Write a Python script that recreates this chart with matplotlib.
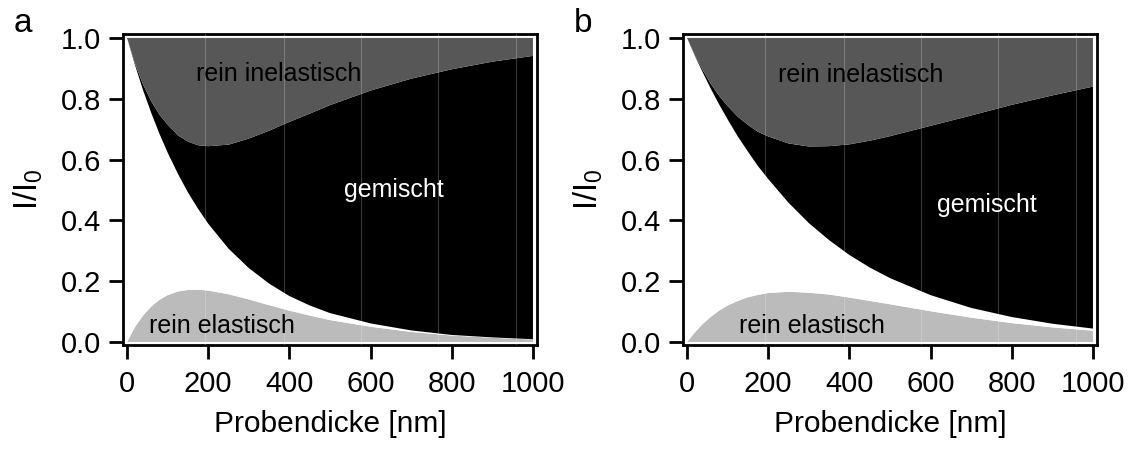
import numpy as np
import matplotlib
matplotlib.use("Agg")
import matplotlib.pyplot as plt

plt.rcParams["font.family"] = "Liberation Sans"
plt.rcParams["mathtext.default"] = "regular"

# Probendicke [nm]
dicke = [0, 20, 40, 60, 80, 100, 125, 150, 175, 200, 250, 300, 350, 400,
         450, 500, 600, 700, 800, 900, 1000]

# panel a: Anteile (rein elastisch, ungestreut, gemischt), Rest = rein inelastisch
elast_a = [0, .050, .088, .117, .139, .154, .166, .171, .172, .169, .157, .140,
           .121, .103, .087, .072, .050, .033, .021, .014, .008]
unges_a = [1, .859, .738, .635, .545, .469, .388, .321, .266, .220, .150, .103,
           .071, .048, .033, .023, .011, .005, .002, .001, .001]
gemis_a = [0, .005, .019, .039, .063, .092, .126, .167, .209, .255, .342, .426,
           .503, .573, .631, .684, .766, .828, .874, .907, .932]

# panel b
elast_b = [0, .033, .061, .084, .104, .120, .135, .147, .155, .161, .165, .162,
           .156, .146, .135, .124, .101, .080, .062, .048, .037]
unges_b = [1, .906, .822, .745, .675, .612, .541, .479, .423, .375, .293, .229,
           .179, .140, .110, .086, .053, .032, .020, .012, .007]
gemis_b = [0, .002, .008, .017, .029, .044, .065, .088, .113, .140, .195, .252,
           .309, .364, .417, .467, .557, .633, .698, .751, .796]

# faint vertical seams
seams = [193, 386, 576, 767, 958]

labels_a = [("rein inelastisch", 170, 0.86, "black"),
            ("gemischt", 534, 0.477, "white"),
            ("rein elastisch", 54, 0.03, "black")]
labels_b = [("rein inelastisch", 224, 0.855, "black"),
            ("gemischt", 616, 0.428, "white"),
            ("rein elastisch", 128, 0.03, "black")]

W, H = 1143, 455
fig = plt.figure(figsize=(W / 100, H / 100), dpi=100)


def panel(left_px, elast, unges, gemis, labels, letter, letter_x):
    ax = fig.add_axes([left_px / W, (H - 345) / H, 414 / W, 311 / H])
    e = np.array(elast)
    u = np.array(unges)
    m = np.array(gemis)
    inel = 1 - e - u - m
    ax.stackplot(dicke, e, u, m, inel,
                 colors=["#bbbbbb", "white", "black", "#575757"], linewidth=0)
    for s in seams:
        ax.axvline(s, color="white", alpha=0.22, lw=0.8, zorder=3)
    for txt, x, y, c in labels:
        ax.text(x, y, txt, color=c, fontsize=18, ha="left", va="baseline", zorder=4)

    ax.set_xlim(-10, 1010)
    ax.set_ylim(-0.01, 1.013)
    ax.set_xticks([0, 200, 400, 600, 800, 1000])
    ax.set_yticks([0.0, 0.2, 0.4, 0.6, 0.8, 1.0])
    ax.set_yticklabels(["0.0", "0.2", "0.4", "0.6", "0.8", "1.0"])
    ax.tick_params(direction="out", length=10, width=2, labelsize=21, pad=6)
    ax.tick_params(axis="x", pad=8)
    for sp in ax.spines.values():
        sp.set_linewidth(2)
    ax.set_xlabel("Probendicke [nm]", fontsize=21.5, labelpad=9)
    ax.set_ylabel("I/I$_0$", fontsize=23.5, labelpad=11)
    fig.text(letter_x / W, 1 - 32 / H, letter, fontsize=24, va="baseline")
    return ax


panel(123, elast_a, unges_a, gemis_a, labels_a, "a", 14)
panel(683, elast_b, unges_b, gemis_b, labels_b, "b", 574)

fig.savefig("out.png", dpi=100)
